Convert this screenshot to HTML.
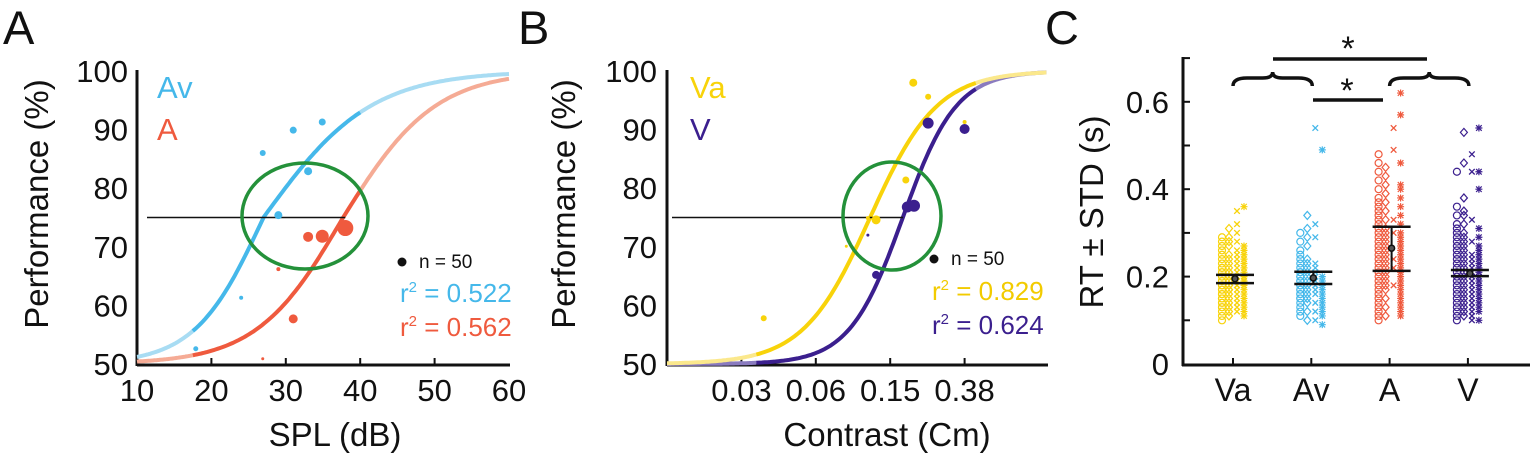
<!DOCTYPE html>
<html><head><meta charset="utf-8"><style>
html,body{margin:0;padding:0;background:#fff;}
svg{display:block;font-family:"Liberation Sans",Arial,sans-serif;}
</style></head><body>
<svg id="fig" width="1535" height="458" viewBox="0 0 1535 458" xmlns="http://www.w3.org/2000/svg">
<g id="pA"></g>
<g id="pB"></g>
<g id="pC"></g>
</svg>
<script>
// ---------- Panel A data ----------
const aTicksX = [10,20,30,40,50,60];
const aTicksY = [50,60,70,80,90,100];
const avX = [31.0,34.9,26.9,33.0,29.0,24.0,17.9];
const avY = [89.9,91.3,86.0,82.9,75.4,61.3,52.6];
const avR = [3.5,3.5,3,4,4,2,2.5];
const aX = [33.0,34.9,38.0,29.0,31.0,26.9];
const aY = [71.7,71.8,73.2,66.2,57.7,50.9];
const aR = [5,6.5,8,2,4.5,1.5];
// ---------- Panel B data ----------
const bTickLabels = ["0.03","0.06","0.15","0.38"];
const bTickPos = [1,2,3,4];
const vaX = [3.31,3.51,3.21,2.81,2.70,2.41,1.30,4.0];
const vaY = [98.0,95.6,81.4,74.6,74.9,70.1,57.8,91.3];
const vaR = [4,3,3.5,4.5,2,1.5,3,2];
const vX = [3.51,4.0,3.23,3.32,2.70,2.81];
const vY = [91.1,90.1,76.8,77.0,72.0,65.2];
const vR = [5.5,5,5.5,6,1.5,4];
// ---------- Panel C data ----------
const cCats = ["Va","Av","A","V"];
const cTickVals = [0,0.2,0.4,0.6];
const cMean = [0.195,0.197,0.265,0.207];
const cLo = [0.185,0.183,0.213,0.201];
const cHi = [0.204,0.211,0.314,0.215];
const Va_o=[0.10,0.11,0.12,0.13,0.13,0.14,0.14,0.15,0.15,0.16,0.16,0.17,0.17,0.18,0.18,0.19,0.19,0.20,0.20,0.21,0.21,0.22,0.22,0.23,0.24,0.25,0.26,0.27,0.28,0.29];
const Va_d=[0.11,0.12,0.13,0.14,0.15,0.16,0.17,0.17,0.18,0.18,0.19,0.19,0.20,0.20,0.21,0.21,0.22,0.23,0.24,0.25,0.27,0.28,0.29,0.31];
const Va_x=[0.12,0.13,0.14,0.15,0.16,0.17,0.18,0.18,0.19,0.19,0.20,0.20,0.21,0.22,0.23,0.24,0.25,0.26,0.28,0.30,0.32,0.35];
const Va_s=[0.11,0.12,0.13,0.14,0.15,0.16,0.17,0.18,0.18,0.19,0.19,0.20,0.20,0.21,0.22,0.23,0.24,0.25,0.26,0.27,0.36];
const Av_o=[0.11,0.12,0.13,0.14,0.15,0.15,0.16,0.16,0.17,0.17,0.18,0.18,0.19,0.19,0.20,0.20,0.21,0.21,0.22,0.23,0.24,0.25,0.26,0.28,0.30];
const Av_d=[0.10,0.12,0.14,0.15,0.16,0.17,0.18,0.19,0.20,0.21,0.22,0.23,0.24,0.27,0.29,0.31,0.34];
const Av_x=[0.10,0.12,0.14,0.16,0.17,0.18,0.19,0.20,0.21,0.22,0.23,0.29,0.32,0.54];
const Av_s=[0.09,0.11,0.12,0.13,0.14,0.15,0.16,0.17,0.18,0.19,0.20,0.49];
const A_o=[0.10,0.11,0.12,0.13,0.14,0.15,0.16,0.17,0.18,0.19,0.20,0.21,0.22,0.23,0.24,0.25,0.26,0.27,0.28,0.29,0.30,0.31,0.32,0.33,0.34,0.35,0.36,0.37,0.38,0.40,0.42,0.44,0.46,0.48];
const A_d=[0.11,0.13,0.15,0.17,0.18,0.19,0.20,0.21,0.22,0.23,0.24,0.25,0.26,0.27,0.28,0.29,0.30,0.31,0.33,0.35,0.37,0.39,0.41,0.43,0.45];
const A_x=[0.18,0.22,0.24,0.30,0.33,0.49,0.54];
const A_s=[0.11,0.12,0.13,0.14,0.15,0.16,0.17,0.18,0.19,0.20,0.21,0.22,0.23,0.24,0.25,0.26,0.27,0.28,0.29,0.30,0.32,0.34,0.36,0.38,0.40,0.41,0.46,0.57,0.62];
const V_o=[0.10,0.11,0.12,0.13,0.14,0.15,0.16,0.17,0.18,0.19,0.20,0.21,0.22,0.23,0.24,0.25,0.26,0.27,0.28,0.29,0.30,0.31,0.32,0.34,0.36,0.44];
const V_d=[0.11,0.12,0.13,0.14,0.15,0.16,0.17,0.18,0.19,0.20,0.21,0.22,0.23,0.24,0.25,0.26,0.27,0.28,0.29,0.30,0.32,0.34,0.35,0.38,0.46,0.53];
const V_x=[0.10,0.11,0.12,0.13,0.14,0.15,0.16,0.17,0.18,0.19,0.20,0.21,0.22,0.23,0.24,0.25,0.28,0.33,0.44,0.48];
const V_s=[0.10,0.12,0.13,0.14,0.15,0.16,0.17,0.18,0.19,0.20,0.21,0.22,0.23,0.24,0.25,0.26,0.27,0.29,0.31,0.40,0.44,0.54];

const NS="http://www.w3.org/2000/svg";
function mk(parent,tag,attrs,text){const e=document.createElementNS(NS,tag);for(const k in attrs)e.setAttribute(k,attrs[k]);if(text!==undefined)e.textContent=text;parent.appendChild(e);return e;}
const BLUE="#45b8ea",BLUEL="#a8dcf3",RED="#ef5a3e",REDL="#f5ab95",YEL="#f8d30a",YELL="#fbe88c",PUR="#3b1f8e",PURL="#8a7bbf",GRN="#24913a";
const yP=v=>364-(v-50)*5.86;
const TF=31, LF=33;

function perfAxes(g,x0,x1,yLabelX,tickRight){
  let e=mk(g,"line",{x1:x0,y1:365,x2:x1,y2:365,stroke:"#111","stroke-width":3});
  
  e=mk(g,"line",{x1:x0,y1:70,x2:x0,y2:366,stroke:"#111","stroke-width":3});
  
  aTicksY.forEach(v=>{
    const t=mk(g,"text",{x:tickRight,y:yP(v)+11,"text-anchor":"end","font-size":TF,fill:"#111"},String(v));
    
  });
  const yl=mk(g,"text",{x:yLabelX,y:204,"text-anchor":"middle","font-size":LF,fill:"#111",transform:`rotate(-90 ${yLabelX} 204)`},"Performance (%)");
  
}
function curve(g,f,xs,xa,xb,da,db,dark,light,name){
  const seg=(a,b,col)=>{let d="";const n=80;for(let i=0;i<=n;i++){const u=a+(b-a)*i/n;d+=(i?"L":"M")+xs(u).toFixed(1)+","+yP(f(u)).toFixed(1);}
    const p=mk(g,"path",{d:d,fill:"none",stroke:col,"stroke-width":4});};
  seg(xa,da,light);seg(db,xb,light);seg(da,db,dark);
}
function dots(g,X,Y,R,xs,col,name){
  X.forEach((x,i)=>{const c=mk(g,"circle",{cx:xs(x),cy:yP(Y[i]),r:R[i],fill:col});
    });
}
function stats(g,x,y1,y2,y3,c1,c2,t1,t2){
  let c=mk(g,"circle",{cx:x,cy:y1-6,r:4.5,fill:"#111"});
  let t=mk(g,"text",{x:x+17,y:y1,"font-size":19,fill:"#111"},"n = 50");
  t=mk(g,"text",{x:x-2,y:y2,"font-size":26,fill:c1});t.innerHTML='r<tspan font-size="15" dy="-10">2</tspan><tspan dy="10"> = '+t1+'</tspan>';
  
  t=mk(g,"text",{x:x-2,y:y3,"font-size":26,fill:c2});t.innerHTML='r<tspan font-size="15" dy="-10">2</tspan><tspan dy="10"> = '+t2+'</tspan>';
  
}

// ---------- Panel A ----------
(function(){
  const g=document.getElementById("pA");
  const xs=v=>137+(v-10)*7.44;
  let t=mk(g,"text",{x:3,y:44,"font-size":47,fill:"#111"},"A");
  perfAxes(g,137,510,48,128);
  aTicksX.forEach(v=>{
    if(v>10&&v<60){const l=mk(g,"line",{x1:xs(v),y1:365,x2:xs(v),y2:358,stroke:"#111","stroke-width":2});}
    const tt=mk(g,"text",{x:xs(v),y:401,"text-anchor":"middle","font-size":TF,fill:"#111"},String(v));
    
  });
  t=mk(g,"text",{x:335,y:446,"text-anchor":"middle","font-size":LF,fill:"#111"},"SPL (dB)");
  const fAv=x=>50+50/(1+Math.exp(-(x-27)/(x<27?4.6:7.2)));
  const fA=x=>50+50/(1+Math.exp(-(x-37.7)/(x<37.7?5.8:6.2)));
  curve(g,fAv,xs,10,60,17.5,40,BLUE,BLUEL,'av-fit-curve');
  curve(g,fA,xs,10,60,17.5,40,RED,REDL,'a-fit-curve');
  let l=mk(g,"line",{x1:147,y1:yP(75),x2:xs(38),y2:yP(75),stroke:"#111","stroke-width":1.5});
  dots(g,avX,avY,avR,xs,BLUE,'av-point');
  dots(g,aX,aY,aR,xs,RED,'a-point');
  const e=mk(g,"ellipse",{cx:305,cy:216,rx:63,ry:53,fill:"none",stroke:GRN,"stroke-width":3.5});
  t=mk(g,"text",{x:157,y:98,"font-size":31,fill:BLUE},"Av");
  t=mk(g,"text",{x:157,y:140,"font-size":31,fill:RED},"A");
  stats(g,402,268,302,336,BLUE,RED,"0.522","0.562");
})();

// ---------- Panel B ----------
(function(){
  const g=document.getElementById("pB");
  const xs=v=>667+v*74.4;
  let t=mk(g,"text",{x:518,y:44,"font-size":47,fill:"#111"},"B");
  perfAxes(g,667,1048,575,657);
  bTickPos.forEach((v,i)=>{
    const l=mk(g,"line",{x1:xs(v),y1:365,x2:xs(v),y2:358,stroke:"#111","stroke-width":2});
    const tt=mk(g,"text",{x:xs(v),y:401,"text-anchor":"middle","font-size":TF,fill:"#111"},bTickLabels[i]);
    
  });
  t=mk(g,"text",{x:887,y:446,"text-anchor":"middle","font-size":LF,fill:"#111"},"Contrast (Cm)");
  const fVa=x=>50+50/(1+Math.exp(-(x-2.73)/0.45));
  const fV=x=>50+50/(1+Math.exp(-(x-3.17)/0.36));
  curve(g,fV,xs,0,5.1,1.2,4.15,PUR,PURL,'v-fit-curve');
  curve(g,fVa,xs,0,5.1,1.2,4.15,YEL,YELL,'va-fit-curve');
  let l=mk(g,"line",{x1:672,y1:yP(75),x2:903,y2:yP(75),stroke:"#111","stroke-width":1.5});
  dots(g,vaX,vaY,vaR,xs,YEL,'va-point');
  dots(g,vX,vY,vR,xs,PUR,'v-point');
  const e=mk(g,"ellipse",{cx:892,cy:216,rx:49,ry:54,fill:"none",stroke:GRN,"stroke-width":3.5});
  t=mk(g,"text",{x:690,y:98,"font-size":31,fill:YEL},"Va");
  t=mk(g,"text",{x:690,y:140,"font-size":31,fill:PUR},"V");
  stats(g,934,265,300,334,"#f2cb00",PUR,"0.829","0.624");
})();

// ---------- Panel C ----------
(function(){
  const g=document.getElementById("pC");
  const yC=v=>364-v*437;
  const xC=i=>1233+i*78.3;
  let t=mk(g,"text",{x:1045,y:44,"font-size":47,fill:"#111"},"C");
  let e=mk(g,"line",{x1:1182,y1:365,x2:1530,y2:365,stroke:"#111","stroke-width":3});
  e=mk(g,"line",{x1:1183,y1:57,x2:1183,y2:366,stroke:"#111","stroke-width":3});
  [0.1,0.2,0.3,0.4,0.5,0.6,0.7].forEach(v=>{const l=mk(g,"line",{x1:1183,y1:yC(v),x2:1190,y2:yC(v),stroke:"#111","stroke-width":2});});
  cTickVals.forEach(v=>{const tt=mk(g,"text",{x:1169,y:yC(v)+11,"text-anchor":"end","font-size":TF,fill:"#111"},String(v));});
  t=mk(g,"text",{x:1103,y:212,"text-anchor":"middle","font-size":LF,fill:"#111",transform:"rotate(-90 1103 212)"},"RT ± STD (s)");
  cCats.forEach((c,i)=>{
    const l=mk(g,"line",{x1:xC(i),y1:365,x2:xC(i),y2:358,stroke:"#111","stroke-width":2});
    const tt=mk(g,"text",{x:xC(i),y:401,"text-anchor":"middle","font-size":32,fill:"#111"},c);
  });
  const groups=[[Va_o,Va_d,Va_x,Va_s],[Av_o,Av_d,Av_x,Av_s],[A_o,A_d,A_x,A_s],[V_o,V_d,V_x,V_s]];
  const cols=[YEL,BLUE,RED,PUR];
  const offs=[-11,-4,4,11];
  groups.forEach((grp,gi)=>{
    grp.forEach((arr,k)=>{
      arr.forEach(v=>{
        const x=xC(gi)+offs[k],y=yC(v),col=cols[gi];let m;
        if(k===0){m=mk(g,"circle",{cx:x,cy:y,r:3.5,fill:"none",stroke:col,"stroke-width":1.2});}
        else if(k===1){m=mk(g,"path",{d:`M${x},${y-4}L${x+3.5},${y}L${x},${y+4}L${x-3.5},${y}Z`,fill:"none",stroke:col,"stroke-width":1.2});}
        else if(k===2){m=mk(g,"path",{d:`M${x-2.8},${y-2.8}L${x+2.8},${y+2.8}M${x-2.8},${y+2.8}L${x+2.8},${y-2.8}`,stroke:col,"stroke-width":1.3});}
        else {m=mk(g,"path",{d:`M${x-2.8},${y-2.8}L${x+2.8},${y+2.8}M${x-2.8},${y+2.8}L${x+2.8},${y-2.8}M${x},${y-3.5}L${x},${y+3.5}M${x-3.5},${y}L${x+3.5},${y}`,stroke:col,"stroke-width":1.2});}
        
        
      });
    });
  });
  cCats.forEach((c,i)=>{
    const x=xC(i);
    let l=mk(g,"line",{x1:x+2,y1:yC(cHi[i]),x2:x+2,y2:yC(cLo[i]),stroke:"#111","stroke-width":2});
    l=mk(g,"line",{x1:x-17,y1:yC(cHi[i]),x2:x+21,y2:yC(cHi[i]),stroke:"#111","stroke-width":2.5});
    l=mk(g,"line",{x1:x-17,y1:yC(cLo[i]),x2:x+21,y2:yC(cLo[i]),stroke:"#111","stroke-width":2.5});
    const m=mk(g,"circle",{cx:x+2,cy:yC(cMean[i]),r:3,fill:"#555",stroke:"#111","stroke-width":1.5});
  });
  const brace=(xa,xb,name)=>{const xm=(xa+xb)/2,yt=72,yb=86;
    const p=mk(g,"path",{d:`M${xa},${yb} Q${xa},${yt+6} ${xa+14},${yt+6} L${xm-10},${yt+6} Q${xm},${yt+6} ${xm},${yt} Q${xm},${yt+6} ${xm+10},${yt+6} L${xb-14},${yt+6} Q${xb},${yt+6} ${xb},${yb}`,fill:"none",stroke:"#111","stroke-width":3.5});
    };
  brace(xC(0),xC(1)+1,'brace-va-av');brace(xC(2),xC(3)+1,'brace-a-v');
  let b=mk(g,"line",{x1:1273,y1:59,x2:1427,y2:59,stroke:"#111","stroke-width":3.5});
  b=mk(g,"line",{x1:1313,y1:100,x2:1383,y2:100,stroke:"#111","stroke-width":3.5});
  t=mk(g,"text",{x:1348,y:60,"text-anchor":"middle","font-size":34,fill:"#111"},"*");
  t=mk(g,"text",{x:1347,y:102,"text-anchor":"middle","font-size":34,fill:"#111"},"*");
})();
</script>
</body></html>
